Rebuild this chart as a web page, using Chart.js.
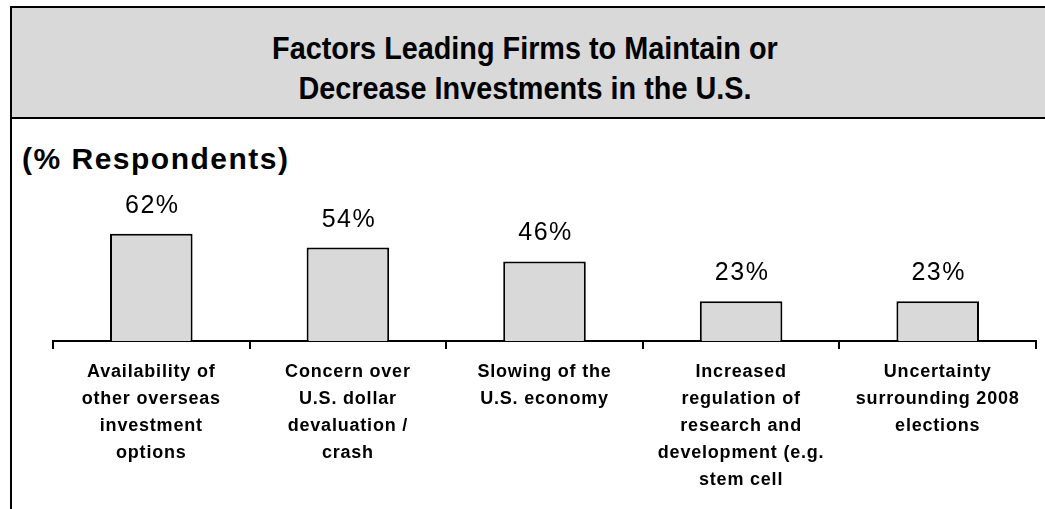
<!DOCTYPE html>
<html lang="en">
<head>
    <meta charset="UTF-8">
    <title>Factors Leading Firms to Maintain or Decrease Investments in the U.S.</title>
    <script src="https://cdn.jsdelivr.net/npm/chart.js"></script>
    <style>
        html, body {
            margin: 0;
            padding: 0;
            background: #fff;
            width: 1045px;
            height: 509px;
            overflow: hidden;
            font-family: "Liberation Sans", Arial, sans-serif;
        }
        .frame {
            position: absolute;
            left: 10px;
            top: 6px;
            width: 1040px;
            height: 510px;
            border-left: 2px solid #000;
            border-top: 2px solid #000;
        }
        .header {
            height: 89px;
            padding-top: 20px;
            background: #d9d9d9;
            border-bottom: 2px solid #000;
            text-align: center;
            color: #000;
        }
        .header span {
            display: inline-block;
            font-weight: bold;
            font-size: 32px;
            line-height: 40px;
            transform: scaleX(0.9);
            margin-left: -14px;
        }
        .subtitle {
            position: absolute;
            left: 22px;
            top: 141px;
            font-weight: bold;
            font-size: 30px;
            letter-spacing: 1.5px;
            line-height: 36px;
            color: #000;
        }
        .chart-container {
            position: absolute;
            left: 12px;
            top: 119px;
            width: 1033px;
            height: 390px;
        }
    </style>
</head>
<body>
    <div class="frame">
        <div class="header"><span>Factors Leading Firms to Maintain or<br>Decrease Investments in the U.S.</span></div>
    </div>
    <div class="subtitle">(% Respondents)</div>
    <div class="chart-container">
        <canvas id="myChart"></canvas>
    </div>

    <script>
        const categories = [
            ['Availability of', 'other overseas', 'investment', 'options'],
            ['Concern over', 'U.S. dollar', 'devaluation /', 'crash'],
            ['Slowing of the', 'U.S. economy'],
            ['Increased', 'regulation of', 'research and', 'development (e.g.', 'stem cell'],
            ['Uncertainty', 'surrounding 2008', 'elections']
        ];
        const respondents = [62, 54, 46, 23, 23];

        // value labels above each bar
        const valueLabels = {
            id: 'valueLabels',
            afterDatasetsDraw(chart) {
                const ctx = chart.ctx;
                const meta = chart.getDatasetMeta(0);
                ctx.save();
                ctx.font = '25px "Liberation Sans", Arial, sans-serif';
                ctx.letterSpacing = '1.5px';
                ctx.fillStyle = '#000';
                ctx.textAlign = 'center';
                ctx.textBaseline = 'alphabetic';
                meta.data.forEach((bar, i) => {
                    ctx.fillText(respondents[i] + '%', bar.x + 1, bar.y - 21);
                });
                ctx.restore();
            }
        };

        const spacing = {
            id: 'spacing',
            beforeDraw(chart) {
                chart.ctx.letterSpacing = '0.8px';
            }
        };

        const ctx = document.getElementById('myChart').getContext('2d');
        new Chart(ctx, {
            type: 'bar',
            data: {
                labels: categories,
                datasets: [{
                    label: '% Respondents',
                    data: respondents,
                    backgroundColor: '#d9d9d9',
                    borderColor: '#000',
                    borderWidth: 2,
                    borderSkipped: 'bottom',
                    categoryPercentage: 1,
                    barPercentage: 0.42
                }]
            },
            options: {
                responsive: true,
                maintainAspectRatio: false,
                animation: false,
                layout: {
                    padding: { left: 41, right: 9, top: 49, bottom: 0 }
                },
                scales: {
                    x: {
                        grid: {
                            display: true,
                            offset: true,
                            drawOnChartArea: false,
                            drawTicks: true,
                            tickLength: 8,
                            color: '#000',
                            lineWidth: 2
                        },
                        border: { display: true, color: '#000', width: 2 },
                        ticks: {
                            color: '#000',
                            padding: 10,
                            maxRotation: 0,
                            autoSkip: false,
                            font: { family: '"Liberation Sans", Arial, sans-serif', size: 18, weight: 'bold', lineHeight: 1.5 }
                        },
                        afterFit(scale) {
                            scale.height = 168;
                        }
                    },
                    y: {
                        display: false,
                        min: 0,
                        max: 100
                    }
                },
                plugins: {
                    legend: { display: false },
                    tooltip: { enabled: false }
                }
            },
            plugins: [valueLabels, spacing]
        });
    </script>
</body>
</html>
